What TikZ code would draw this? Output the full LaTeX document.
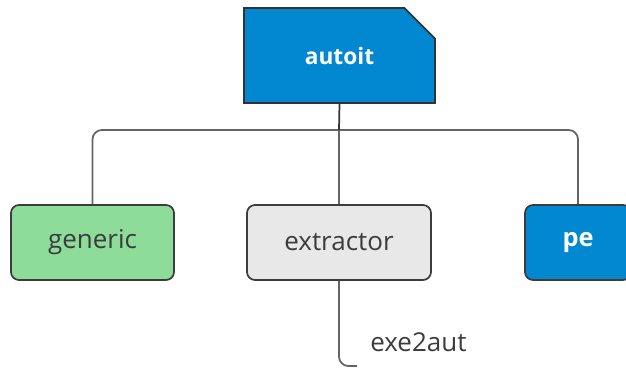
\documentclass[tikz,border=0pt]{standalone}
\usepackage{fontspec}
\setmainfont{Open Sans}
\usetikzlibrary{shapes.misc}

\definecolor{nodeblue}{RGB}{2,136,209}
\definecolor{nodegreen}{RGB}{142,220,154}
\definecolor{nodegray}{RGB}{232,232,232}
\definecolor{linegray}{RGB}{100,100,100}
\definecolor{textgray}{RGB}{60,60,60}

\newcommand{\busy}{130}% height of the branch line
\newcommand{\labelfont}{\fontsize{19.5}{22}\selectfont}
\newcommand{\boldfont}{\fontsize{17}{20}\selectfont\bfseries}

\begin{document}
\begin{tikzpicture}[x=0.75pt,y=-0.75pt,
		box/.style={draw=textgray, line width=1.3pt, rounded corners=6pt, minimum height=56.25pt, font=\labelfont, text=textgray},
		link/.style={draw=linegray, line width=1.3pt, rounded corners=7pt}]
		
				\useasboundingbox (0,0) rectangle (626,368);
			
				% root with the folded corner
				\node[chamfered rectangle, chamfered rectangle corners=north east,
					chamfered rectangle xsep=16.5pt, chamfered rectangle ysep=16.5pt,
					draw=black!80, line width=1.3pt, fill=nodeblue, text=white,
					minimum width=143.25pt, minimum height=71.25pt, inner sep=0pt,
					font=\boldfont] (autoit) at (339.5,55.5) {autoit};
			
				\node[box, fill=nodegreen, minimum width=122.25pt] (generic) at (92.5,242.5) {generic};
				\node[box, fill=nodegray, minimum width=138pt] (extractor) at (339,242.5) {extractor};
				\node[box, fill=nodeblue, text=white, font=\fontsize{19}{22}\selectfont\bfseries, minimum width=79.5pt] (pe) at (578,242.5) {pe};
			
				\node[anchor=base west, text=textgray, font=\labelfont, inner sep=0pt] (exe2aut) at (370,351) {exe2aut};
				\coordinate (leafend) at (357,366);
				\coordinate (bus) at (339,\busy);
			
				\draw[link] (generic.north) |- (bus) -| (pe.north);
				\draw[link] (bus) -- (extractor.north);
				\draw[line width=1.3pt, draw=black!80] (autoit.south) -- (bus);
				\draw[link] (extractor.south) |- (leafend);
			\end{tikzpicture}
\end{document}
